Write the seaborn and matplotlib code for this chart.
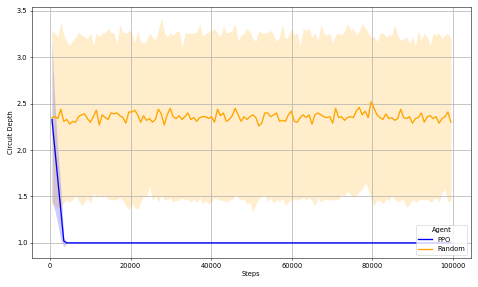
import numpy as np
import pandas as pd
import matplotlib
matplotlib.use("Agg")
import matplotlib.pyplot as plt
import seaborn as sns

# training steps shared by both agents
steps = np.arange(500, 100000, 733)

# Random agent: mean circuit depth and band edges
random_mean = [
    2.35, 2.36, 2.34, 2.44, 2.31, 2.33, 2.28, 2.31, 2.30, 2.36,
    2.38, 2.39, 2.34, 2.30, 2.36, 2.43, 2.27, 2.38, 2.35, 2.33,
    2.40, 2.39, 2.40, 2.37, 2.35, 2.29, 2.41, 2.41, 2.43, 2.38,
    2.30, 2.37, 2.32, 2.34, 2.30, 2.33, 2.44, 2.39, 2.27, 2.38,
    2.45, 2.36, 2.34, 2.37, 2.33, 2.36, 2.40, 2.33, 2.35, 2.31,
    2.35, 2.36, 2.36, 2.34, 2.36, 2.30, 2.44, 2.37, 2.40, 2.31,
    2.33, 2.37,
    2.45, 2.38, 2.31, 2.36, 2.33, 2.36, 2.38, 2.35, 2.26, 2.29,
    2.40, 2.40, 2.36, 2.38, 2.40, 2.31, 2.32, 2.31, 2.38, 2.42,
    2.31, 2.30, 2.35, 2.38, 2.35, 2.38, 2.28, 2.38, 2.40, 2.38,
    2.36, 2.35, 2.36, 2.29, 2.45, 2.35, 2.36, 2.32, 2.35, 2.36,
    2.35, 2.42, 2.46, 2.38, 2.42, 2.35, 2.52, 2.45, 2.38, 2.35,
    2.33, 2.39, 2.34, 2.35, 2.32, 2.34, 2.44, 2.35, 2.34, 2.36,
    2.29, 2.34, 2.35, 2.40, 2.30, 2.36, 2.37, 2.34, 2.36, 2.29,
    2.34, 2.36, 2.41, 2.30,
]
random_upper = [
    3.29, 3.26, 3.22, 3.38, 3.24, 3.17, 3.13, 3.18, 3.22, 3.27,
    3.24, 3.22, 3.20, 3.26, 3.13, 3.26, 3.22, 3.26, 3.27, 3.31,
    3.27, 3.26, 3.15, 3.35, 3.27, 3.26, 3.29, 3.26, 3.15, 3.29,
    3.17, 3.15, 3.18, 3.26, 3.22, 3.18, 3.29, 3.42, 3.27, 3.22,
    3.26, 3.24, 3.27, 3.29, 3.11, 3.26, 3.26, 3.26, 3.26, 3.27,
    3.36, 3.22, 3.26, 3.27, 3.29, 3.31, 3.26, 3.22, 3.33, 3.26,
    3.27, 3.29,
    3.36, 3.17, 3.24, 3.26, 3.31, 3.27, 3.20, 3.17, 3.29, 3.26,
    3.26, 3.27, 3.29, 3.24, 3.17, 3.22, 3.35, 3.20, 3.22, 3.31,
    3.24, 3.27, 3.11, 3.31, 3.29, 3.31, 3.22, 3.26, 3.18, 3.35,
    3.26, 3.24, 3.26, 3.15, 3.24, 3.26, 3.24, 3.28, 3.36, 3.29,
    3.31, 3.24, 3.28, 3.36, 3.32, 3.26, 3.22, 3.22, 3.17, 3.26,
    3.26, 3.22, 3.24, 3.24, 3.35, 3.24, 3.18, 3.20, 3.22, 3.15,
    3.22, 3.13, 3.29, 3.18, 3.26, 3.22, 3.13, 3.26, 3.24, 3.26,
    3.20, 3.24, 3.26, 3.20,
]
random_lower = [
    1.42, 1.40, 1.38, 1.38, 1.44, 1.46, 1.44, 1.47, 1.51, 1.46,
    1.40, 1.44, 1.49, 1.42, 1.54, 1.49, 1.51, 1.49, 1.51, 1.47,
    1.47, 1.46, 1.47, 1.49, 1.46, 1.40, 1.36, 1.42, 1.38, 1.36,
    1.44, 1.51, 1.49, 1.61, 1.46, 1.51, 1.44, 1.52, 1.47, 1.46,
    1.49, 1.44, 1.46, 1.46, 1.49, 1.46, 1.47, 1.44, 1.47, 1.44,
    1.49, 1.42, 1.46, 1.42, 1.44, 1.49, 1.47, 1.46, 1.46, 1.44,
    1.46, 1.47,
    1.52, 1.49, 1.46, 1.47, 1.42, 1.44, 1.33, 1.42, 1.47, 1.51,
    1.52, 1.44, 1.49, 1.42, 1.47, 1.44, 1.49, 1.40, 1.44, 1.46,
    1.47, 1.46, 1.47, 1.49, 1.46, 1.49, 1.46, 1.40, 1.49, 1.44,
    1.47, 1.47, 1.46, 1.47, 1.46, 1.47, 1.52, 1.50, 1.56, 1.52,
    1.49, 1.51, 1.55, 1.58, 1.65, 1.58, 1.47, 1.40, 1.46, 1.46,
    1.42, 1.47, 1.46, 1.51, 1.47, 1.44, 1.46, 1.47, 1.38, 1.42,
    1.47, 1.44, 1.46, 1.47, 1.46, 1.47, 1.44, 1.46, 1.49, 1.44,
    1.54, 1.58, 1.44, 1.46,
]

# PPO agent: fast drop then flat at depth 1
ppo_mean = [2.33, 2.00, 1.67, 1.34, 1.02] + [1.0] * 131
ppo_upper = [3.18, 2.50, 2.00, 1.60, 1.05] + [1.005] * 131
ppo_lower = [1.45, 1.35, 1.20, 1.03, 0.96] + [0.995] * 131

agents = ["PPO", "Random"]
colors = {"PPO": "blue", "Random": "orange"}

df = pd.concat([
    pd.DataFrame({"Steps": steps, "Circuit Depth": ppo_mean, "Agent": "PPO"}),
    pd.DataFrame({"Steps": steps, "Circuit Depth": random_mean, "Agent": "Random"}),
])

fig, ax = plt.subplots(figsize=(478 / 48, 287 / 48), dpi=48)

sns.lineplot(data=df, x="Steps", y="Circuit Depth", hue="Agent",
             hue_order=agents, palette=colors, errorbar=None,
             linewidth=2, ax=ax)

ax.fill_between(steps, ppo_lower, ppo_upper, color="blue", alpha=0.2, linewidth=0)
ax.fill_between(steps, random_lower, random_upper, color="orange", alpha=0.2, linewidth=0)

ax.grid(True, color="#b0b0b0", linewidth=1.5, alpha=0.7)
ax.legend(title="Agent", loc="lower right")

plt.subplots_adjust(left=0.067, right=0.985, top=0.976, bottom=0.101)
plt.savefig("out.png", dpi=48)
